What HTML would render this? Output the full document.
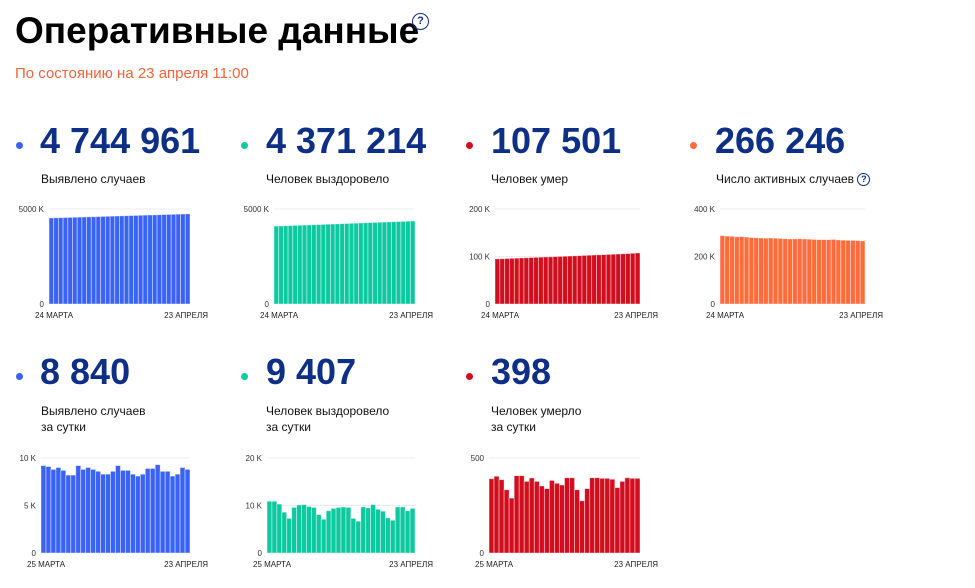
<!DOCTYPE html>
<html><head><meta charset="utf-8">
<style>
body{margin:0;width:975px;height:588px;background:#fff;position:relative;overflow:hidden;font-family:"Liberation Sans","DejaVu Sans",sans-serif}
.abs{position:absolute;white-space:nowrap}
.title{left:15px;top:10px;font-size:37px;font-weight:bold;color:#000;line-height:42px}
.sub{left:15px;top:65px;font-size:15px;color:#f0643c}
.num{font-size:36px;font-weight:bold;color:#0d2f86;line-height:36px}
.dot{width:7px;height:7px;border-radius:50%}
.lbl{font-size:12px;color:#111;line-height:16px}
.q{display:inline-block;border:1.5px solid #0d2f86;border-radius:50%;color:#0d2f86;text-align:center;font-weight:bold}
</style></head><body>
<div class="abs title">Оперативные данные</div>
<div class="abs q" style="left:412px;top:13px;width:15px;height:15px;font-size:11px;line-height:15px">?</div>
<div class="abs sub">По состоянию на 23 апреля 11:00</div>

<div class="abs dot" style="left:16px;top:142px;background:#3a63f5"></div>
<div class="abs num" style="left:40px;top:123px">4 744 961</div>
<div class="abs lbl" style="left:41px;top:171px">Выявлено случаев</div>

<div class="abs dot" style="left:241px;top:142px;background:#0cc9a0"></div>
<div class="abs num" style="left:266px;top:123px">4 371 214</div>
<div class="abs lbl" style="left:266px;top:171px">Человек выздоровело</div>

<div class="abs dot" style="left:466px;top:142px;background:#d10d1e"></div>
<div class="abs num" style="left:491px;top:123px">107 501</div>
<div class="abs lbl" style="left:491px;top:171px">Человек умер</div>

<div class="abs dot" style="left:690px;top:142px;background:#ff6b3b"></div>
<div class="abs num" style="left:715px;top:123px">266 246</div>
<div class="abs lbl" style="left:716px;top:171px">Число активных случаев <span class="q" style="width:11px;height:11px;font-size:9px;line-height:11px;vertical-align:middle">?</span></div>

<div class="abs dot" style="left:16px;top:373px;background:#3a63f5"></div>
<div class="abs num" style="left:40px;top:354px">8 840</div>
<div class="abs lbl" style="left:41px;top:403px">Выявлено случаев<br>за сутки</div>

<div class="abs dot" style="left:241px;top:373px;background:#0cc9a0"></div>
<div class="abs num" style="left:266px;top:354px">9 407</div>
<div class="abs lbl" style="left:266px;top:403px">Человек выздоровело<br>за сутки</div>

<div class="abs dot" style="left:466px;top:373px;background:#d10d1e"></div>
<div class="abs num" style="left:491px;top:354px">398</div>
<div class="abs lbl" style="left:491px;top:403px">Человек умерло<br>за сутки</div>

<svg id="charts" class="abs" style="left:0;top:0" width="975" height="588"></svg>

<script>
const casesTotal=[4530,4537,4544,4551,4558,4566,4573,4580,4588,4595,4602,4610,4617,4625,4632,4640,4647,4655,4662,4670,4677,4685,4692,4700,4707,4715,4722,4730,4737,4745];
const recoveredTotal=[4100,4109,4118,4127,4136,4145,4154,4163,4172,4181,4191,4200,4209,4218,4228,4237,4246,4255,4265,4274,4283,4293,4302,4311,4321,4330,4339,4349,4358,4371];
const deathsTotal=[95.0,95.4,95.8,96.2,96.6,97.0,97.4,97.8,98.2,98.6,99.0,99.4,99.8,100.2,100.6,101.0,101.4,101.8,102.3,102.7,103.1,103.5,104.0,104.4,104.8,105.3,105.7,106.2,106.8,107.5];
const activeTotal=[288,286,285,283,284,282,280,279,278,277,278,277,276,275,274,274,275,274,273,272,271,271,271,272,270,269,268,268,267,266];
const casesDaily=[9.2,9.1,8.8,9.0,8.7,8.2,8.2,9.2,8.8,9.0,8.8,8.6,8.3,8.3,8.6,9.2,8.7,8.7,8.3,8.1,8.3,8.9,8.9,9.3,8.6,8.6,8.1,8.3,9.0,8.8];
const recoveredDaily=[10.9,10.9,10.3,8.6,7.3,9.6,10.1,10.2,9.8,9.6,8.1,7.1,8.9,9.4,9.6,9.7,9.6,7.3,6.7,9.7,9.5,10.2,9.2,8.8,7.4,6.9,9.7,9.7,8.9,9.4];
const deathsDaily=[391,404,386,333,289,407,407,377,395,377,353,339,382,367,358,396,396,333,275,339,396,396,393,393,388,344,377,396,393,393];
const ticksCumCases=[0,5000];const tickLblCumCases=["0","5000 K"];
const ticksCumDeaths=[0,100,200];const tickLblCumDeaths=["0","100 K","200 K"];
const ticksCumActive=[0,200,400];const tickLblCumActive=["0","200 K","400 K"];
const ticksDailyCases=[0,5,10];const tickLblDailyCases=["0","5 K","10 K"];
const ticksDailyRec=[0,10,20];const tickLblDailyRec=["0","10 K","20 K"];
const ticksDailyDeaths=[0,500];const tickLblDailyDeaths=["0","500"];
const dateLabelsTop=["24 МАРТА","23 АПРЕЛЯ"];
const dateLabelsBottom=["25 МАРТА","23 АПРЕЛЯ"];

const svg=document.getElementById('charts');
const NS='http://www.w3.org/2000/svg';
function mk(tag,attrs){const e=document.createElementNS(NS,tag);for(const k in attrs)e.setAttribute(k,attrs[k]);svg.appendChild(e);return e;}
function chart(name,x0,x1,yTop,yBase,values,ticks,tickLbls,dates,color){
  const max=ticks[ticks.length-1];
  const y=v=>yBase-(v/max)*(yBase-yTop);
  ticks.forEach((t,i)=>{
    if(t>0){const g=mk('line',{x1:x0,x2:x1,y1:y(t),y2:y(t),stroke:'#ececec','stroke-width':1});
      
      }
    const tx=mk('text',{x:x0-5,y:y(t)+3,'text-anchor':'end','font-size':8,fill:'#333','font-family':'Liberation Sans, sans-serif'});
    tx.textContent=tickLbls[i];
    
    
  });
  const bw=(x1-x0)/values.length;
  values.forEach((v,i)=>{
    const r=mk('rect',{x:x0+i*bw,y:y(v),width:bw,height:yBase-y(v),fill:color,stroke:'rgba(255,255,255,0.55)','stroke-width':0.8});
    
    
  });
  const l=mk('text',{x:x0-14,y:yBase+14,'font-size':8,fill:'#222','font-family':'Liberation Sans, sans-serif'});
  l.textContent=dates[0];
  
  
  const r2=mk('text',{x:x1+18,y:yBase+14,'text-anchor':'end','font-size':8,fill:'#222','font-family':'Liberation Sans, sans-serif'});
  r2.textContent=dates[1];
  
  
}
chart('cases-total-chart',49,190,209,304,casesTotal,ticksCumCases,tickLblCumCases,dateLabelsTop,'#3a63f5');
chart('recovered-total-chart',274,415,209,304,recoveredTotal,ticksCumCases,tickLblCumCases,dateLabelsTop,'#0cc9a0');
chart('deaths-total-chart',495,640,209,304,deathsTotal,ticksCumDeaths,tickLblCumDeaths,dateLabelsTop,'#d10d1e');
chart('active-total-chart',720,865,209,304,activeTotal,ticksCumActive,tickLblCumActive,dateLabelsTop,'#ff6b3b');
chart('cases-daily-chart',41,190,458,553,casesDaily,ticksDailyCases,tickLblDailyCases,dateLabelsBottom,'#3a63f5');
chart('recovered-daily-chart',267,415,458,553,recoveredDaily,ticksDailyRec,tickLblDailyRec,dateLabelsBottom,'#0cc9a0');
chart('deaths-daily-chart',489,640,458,553,deathsDaily,ticksDailyDeaths,tickLblDailyDeaths,dateLabelsBottom,'#d10d1e');
</script>
</body></html>
